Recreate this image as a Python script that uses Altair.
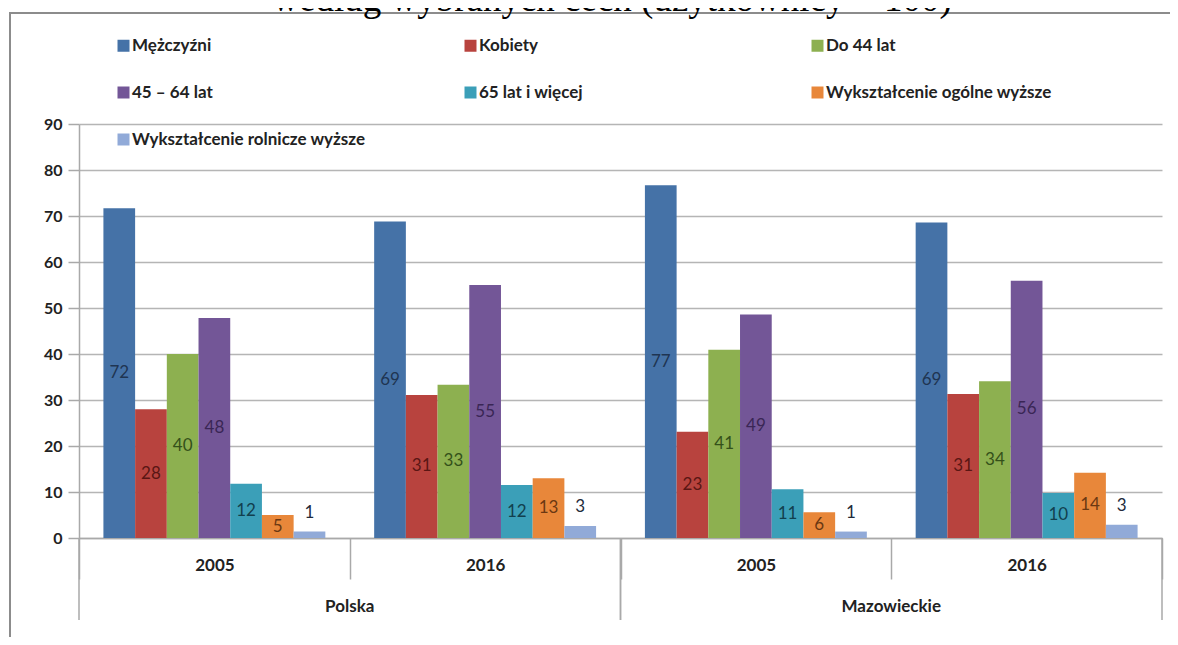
import altair as alt
import pandas as pd

# ---------------- data ----------------
series = [
    "Mężczyźni",
    "Kobiety",
    "Do 44 lat",
    "45 – 64 lat",
    "65 lat i więcej",
    "Wykształcenie ogólne wyższe",
    "Wykształcenie rolnicze wyższe",
]
groups = ["Polska 2005", "Polska 2016", "Mazowieckie 2005", "Mazowieckie 2016"]
regions = ["Polska", "Mazowieckie"]
region_first = ["Polska 2005", "Mazowieckie 2005"]
region_last = ["Polska 2016", "Mazowieckie 2016"]

men = [71.7, 68.8, 76.7, 68.6]
women = [28.0, 31.1, 23.1, 31.3]
under44 = [40.0, 33.3, 40.9, 34.1]
age45_64 = [47.8, 55.0, 48.6, 55.9]
over65 = [11.8, 11.5, 10.6, 9.8]
edu_general = [5.0, 13.0, 5.6, 14.2]
edu_agri = [1.4, 2.6, 1.4, 2.9]

title_text = "według wybranych cech (użytkownicy = 100)"

bar_colors = ["#4572A7", "#B8433E", "#8DB050", "#735697", "#3B9FB8", "#E8873A", "#91AAD8"]
label_colors = ["#1F3552", "#5A1614", "#34501A", "#3A2655", "#12404E", "#6B3812", "#222A3A"]

rows = []
for s, vals in zip(series, [men, women, under44, age45_64, over65, edu_general, edu_agri]):
    for g, v in zip(groups, vals):
        rows.append({"series": s, "group": g, "value": v})
df = pd.DataFrame(rows)
reg_df = pd.DataFrame({"region": regions, "first": region_first, "last": region_last})
one = pd.DataFrame({"a": [0]})

# ---------------- layout ----------------
W, H = 1083, 414
FONT = "Lato"
GREY = "#a9a9a9"

x_scale = alt.Scale(domain=groups, paddingInner=0, paddingOuter=0)
xo_scale = alt.Scale(domain=series, paddingInner=0, paddingOuter=0.77)
y_scale = alt.Scale(domain=[0, 90])

frame = alt.Chart(one).mark_rect(filled=False, stroke="#8c8c8c", strokeWidth=2).encode(
    x=alt.value(-69), x2=alt.value(W + 400), y=alt.value(-111), y2=alt.value(H + 400)
)

title = alt.Chart(one).mark_text(
    text=title_text, font="Liberation Serif", fontSize=37, align="center",
    baseline="alphabetic", color="#000000"
).encode(x=alt.value(533), y=alt.value(-113))

bars = alt.Chart(df).mark_bar().encode(
    x=alt.X(
        "group:N", scale=x_scale, title=None,
        axis=alt.Axis(
            tickBand="extent", tickSize=41, labelPadding=-22, labelAngle=0,
            labelExpr="slice(datum.label, -4)", labelFont=FONT, labelFontSize=17,
            labelFontWeight="bold", labelColor="#222222", domainColor=GREY,
            tickColor=GREY, domainWidth=1.5, tickWidth=1.5, grid=False,
        ),
    ),
    xOffset=alt.XOffset("series:N", scale=xo_scale),
    y=alt.Y(
        "value:Q", scale=y_scale, title=None,
        axis=alt.Axis(
            values=list(range(0, 91, 10)), tickSize=11, labelPadding=6,
            labelFont=FONT, labelFontSize=16, labelFontWeight="bold",
            labelColor="#222222", domainColor=GREY, tickColor=GREY,
            domainWidth=1.5, tickWidth=1.5, gridColor="#b5b5b5", gridWidth=1.5,
        ),
    ),
    color=alt.Color(
        "series:N",
        scale=alt.Scale(domain=series, range=bar_colors),
        legend=alt.Legend(
            title=None, orient="none", legendX=36, legendY=-87, columns=3,
            direction="horizontal",
            gridAlign="all", columnPadding=96, rowPadding=29, padding=0,
            symbolType="square", symbolSize=144, symbolStrokeWidth=0,
            labelFont=FONT, labelFontSize=17, labelFontWeight="bold",
            labelColor="#222222", labelOffset=0, labelLimit=400,
        ),
    ),
)

label_color = alt.Color("series:N", scale=alt.Scale(domain=series, range=label_colors), legend=None)

mid_labels = alt.Chart(df).transform_filter(
    alt.datum.series != series[-1]
).transform_calculate(mid="datum.value / 2").mark_text(
    font=FONT, fontSize=17, baseline="middle", align="center"
).encode(
    x=alt.X("group:N", scale=x_scale, title=None),
    xOffset=alt.XOffset("series:N", scale=xo_scale),
    y=alt.Y("mid:Q", scale=y_scale, title=None),
    text=alt.Text("value:Q", format=".0f"),
    color=label_color,
)

top_labels = alt.Chart(df).transform_filter(
    alt.datum.series == series[-1]
).mark_text(
    font=FONT, fontSize=17, baseline="middle", align="center", dy=-19
).encode(
    x=alt.X("group:N", scale=x_scale, title=None),
    xOffset=alt.XOffset("series:N", scale=xo_scale),
    y=alt.Y("value:Q", scale=y_scale, title=None),
    text=alt.Text("value:Q", format=".0f"),
    color=label_color,
)

region_rules_start = alt.Chart(reg_df).mark_rule(color=GREY, strokeWidth=1.5).encode(
    x=alt.X("first:N", scale=x_scale, bandPosition=0, title=None),
    y=alt.value(H), y2=alt.value(H + 82),
)
region_rules_end = alt.Chart(reg_df).mark_rule(color=GREY, strokeWidth=1.5).encode(
    x=alt.X("last:N", scale=x_scale, bandPosition=1, title=None),
    y=alt.value(H), y2=alt.value(H + 82),
)
region_text = alt.Chart(reg_df).mark_text(
    font=FONT, fontSize=17, fontWeight="bold", color="#222222",
    baseline="middle", align="center"
).encode(
    x=alt.X("last:N", scale=x_scale, bandPosition=0, title=None),
    y=alt.value(H + 69),
    text="region:N",
)

chart = alt.layer(
    frame, title, bars, mid_labels, top_labels,
    region_rules_start, region_rules_end, region_text
).resolve_scale(color="independent").properties(
    width=W, height=H,
    padding={"left": 71, "top": 116, "right": 8, "bottom": 99},
    autosize=alt.AutoSizeParams(type="none"),
).configure_view(stroke=None)

chart.save("out.html", embed_options={"renderer": "svg", "actions": False})
